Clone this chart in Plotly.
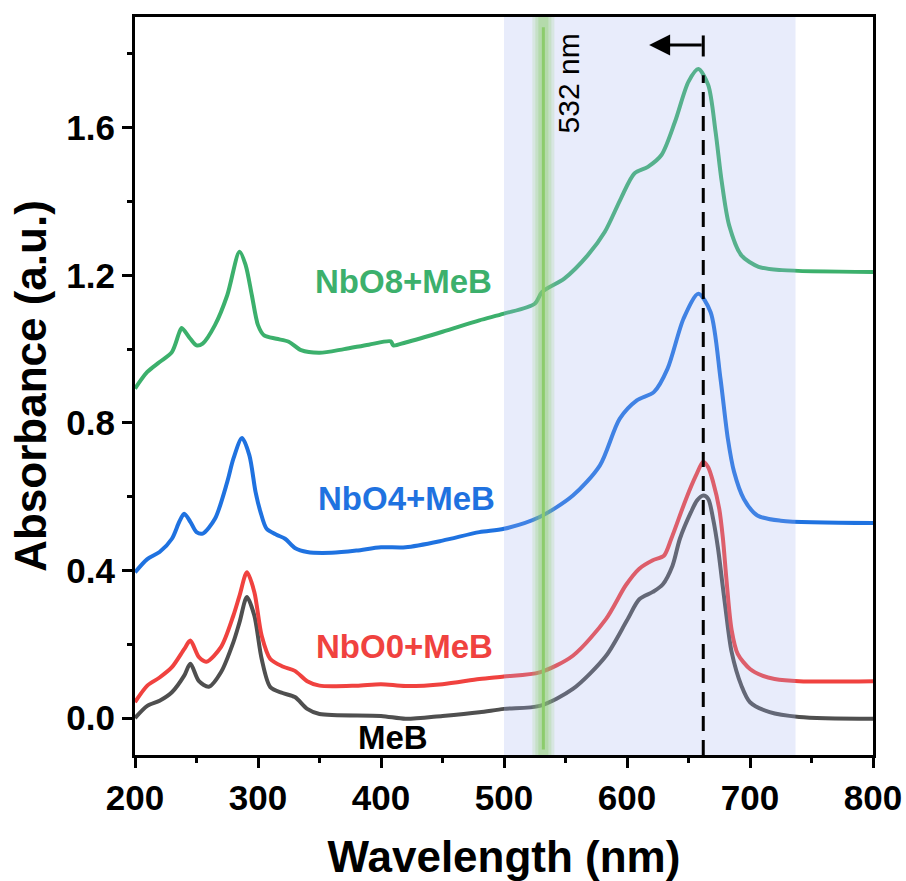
import plotly.graph_objects as go

# ---------------- data ----------------
meb_x = [200, 210, 220, 230, 240, 245, 252, 260, 270, 280, 285, 291, 297, 303, 310, 320, 330, 340, 350, 400, 420, 450, 480, 500,
         529, 556, 583, 600, 610, 621, 629, 637, 643, 652, 657, 662, 666, 670, 674, 677, 680, 685, 693, 700, 716, 740, 800]
meb_y = [0.0, 0.033, 0.047, 0.07, 0.115, 0.147, 0.10, 0.085, 0.125, 0.206, 0.26, 0.328, 0.278, 0.16, 0.084, 0.068, 0.057, 0.025, 0.011, 0.006, -0.002, 0.006, 0.016, 0.025,
         0.033, 0.079, 0.169, 0.265, 0.322, 0.342, 0.362, 0.413, 0.486, 0.558, 0.59, 0.603, 0.594, 0.54, 0.46, 0.38, 0.30, 0.18, 0.088, 0.043, 0.016, 0.003, -0.002]

nbo0_x = [200, 210, 220, 230, 240, 245, 252, 258, 270, 280, 285, 291, 297, 303, 310, 320, 330, 340, 350, 380, 400, 420, 450, 480, 500,
          529, 556, 583, 599, 610, 621, 630, 636, 648, 656, 662, 666, 670, 675, 678, 681, 685, 690, 700, 710, 720, 740, 800]
nbo0_y = [0.043, 0.088, 0.11, 0.138, 0.187, 0.21, 0.165, 0.153, 0.193, 0.278, 0.332, 0.395, 0.342, 0.223, 0.16, 0.14, 0.128, 0.10, 0.088, 0.088, 0.092, 0.087, 0.092, 0.106, 0.113,
          0.124, 0.169, 0.269, 0.36, 0.405, 0.428, 0.44, 0.486, 0.594, 0.657, 0.695, 0.68, 0.64, 0.567, 0.486, 0.37, 0.24, 0.174, 0.133, 0.115, 0.106, 0.10, 0.10]

nbo4_x = [200, 210, 220, 230, 236, 240, 245, 250, 255, 265, 275, 280, 287, 293, 298, 302, 307, 315, 322, 330, 340, 360, 380, 400, 420, 450, 480, 500,
          529, 556, 578, 594, 608, 622, 633, 646, 658, 668, 676, 682, 687, 695, 706, 725, 800]
nbo4_y = [0.395, 0.431, 0.45, 0.486, 0.532, 0.554, 0.532, 0.504, 0.50, 0.54, 0.64, 0.703, 0.759, 0.712, 0.613, 0.559, 0.513, 0.497, 0.486, 0.461, 0.45, 0.448, 0.454, 0.463, 0.463, 0.481, 0.504, 0.513,
          0.545, 0.603, 0.685, 0.811, 0.861, 0.884, 0.947, 1.083, 1.15, 1.10, 0.92, 0.757, 0.668, 0.594, 0.549, 0.535, 0.529]

nbo8_x = [200, 210, 220, 230, 236, 238, 245, 250, 255, 265, 275, 285, 290, 295, 300, 305, 315, 325, 335, 350, 370, 390, 408, 410, 420, 450, 480, 500,
          525, 531, 549, 568, 582, 595, 606, 617, 628, 639, 650, 658, 666, 672, 677, 683, 693, 707, 726, 800]
nbo8_y = [0.893, 0.938, 0.965, 0.992, 1.045, 1.057, 1.028, 1.01, 1.015, 1.065, 1.146, 1.264, 1.227, 1.146, 1.065, 1.037, 1.028, 1.02, 0.997, 0.99, 1.0, 1.012, 1.021, 1.01, 1.018, 1.047, 1.078, 1.096,
          1.123, 1.155, 1.191, 1.254, 1.318, 1.408, 1.476, 1.494, 1.526, 1.616, 1.725, 1.759, 1.716, 1.589, 1.454, 1.336, 1.254, 1.223, 1.214, 1.209]

series_names = ["MeB", "NbO0+MeB", "NbO4+MeB", "NbO8+MeB"]
series_colors = ["#4F4F4F", "#F0423F", "#1F72E0", "#3CB06C"]
label_colors = ["#000000", "#F0423F", "#1F72E0", "#3CB06C"]
label_x = [410, 419, 421, 418]
label_y = [-0.052, 0.194, 0.594, 1.183]

band_range = [500, 737]
laser_nm = 532
peak_nm = 662
arrow_tip_nm = 618
arrow_y = 1.824

FONT = "Arial, Liberation Sans, sans-serif"

fig = go.Figure()
for xs, ys, name, col in zip([meb_x, nbo0_x, nbo4_x, nbo8_x], [meb_y, nbo0_y, nbo4_y, nbo8_y], series_names, series_colors):
    fig.add_trace(go.Scatter(x=xs, y=ys, mode="lines", name=name,
                             line=dict(color=col, width=4, shape="spline", smoothing=0.8),
                             showlegend=False))

# shaded band drawn above traces (semi-transparent)
fig.add_shape(type="rect", xref="x", yref="paper", x0=band_range[0], x1=band_range[1], y0=0, y1=1,
              fillcolor="rgba(163,179,239,0.25)", line_width=0, layer="above")

# 532 nm laser line with glow
for w, op in [(22, 0.18), (16, 0.22), (10, 0.3)]:
    fig.add_shape(type="line", xref="x", yref="paper", x0=laser_nm, x1=laser_nm, y0=0.0, y1=1.0,
                  line=dict(color="rgb(140,205,110)", width=w), opacity=op, layer="above")
fig.add_shape(type="line", xref="x", yref="y", x0=laser_nm, x1=laser_nm, y0=-0.085, y1=1.872,
              line=dict(color="rgb(140,204,108)", width=3), layer="above")

# dashed peak line
fig.add_shape(type="line", xref="x", yref="y", x0=peak_nm, x1=peak_nm, y0=-0.1, y1=1.742,
              line=dict(color="black", width=3, dash="15px,9px"), layer="above")
# T bar of arrow
fig.add_shape(type="line", xref="x", yref="y", x0=peak_nm, x1=peak_nm, y0=1.793, y1=1.85,
              line=dict(color="black", width=3), layer="above")

fig.add_annotation(x=arrow_tip_nm, y=arrow_y, ax=peak_nm, ay=arrow_y, xref="x", yref="y", axref="x", ayref="y",
                   text="", showarrow=True, arrowhead=2, arrowsize=1.4, arrowwidth=3, arrowcolor="black")

fig.add_annotation(x=552, y=1.72, xref="x", yref="y", text="532 nm", showarrow=False, textangle=-90,
                   font=dict(family=FONT, size=30, color="black"))

for t, c, lx, ly in zip(series_names, label_colors, label_x, label_y):
    fig.add_annotation(x=lx, y=ly, xref="x", yref="y", text=t, showarrow=False,
                       font=dict(family=FONT, size=33, color=c, weight="bold"))

axis_common = dict(showline=True, linewidth=3, linecolor="black", mirror=True, ticks="outside",
                   ticklen=10, tickwidth=3, tickcolor="black", showgrid=False, zeroline=False,
                   tickfont=dict(family=FONT, size=35, color="black", weight="bold"))

fig.update_xaxes(range=[200, 800], dtick=100, tick0=200,
                 minor=dict(ticks="outside", ticklen=5, tickwidth=3, tickcolor="black", dtick=50, showgrid=False),
                 title=dict(text="Wavelength (nm)", font=dict(family=FONT, size=44, color="black", weight="bold"), standoff=26),
                 **axis_common)
fig.update_yaxes(range=[-0.1, 1.9], dtick=0.4, tick0=0, tickformat=".1f",
                 minor=dict(ticks="outside", ticklen=5, tickwidth=3, tickcolor="black", dtick=0.2, showgrid=False),
                 title=dict(text="Absorbance (a.u.)", font=dict(family=FONT, size=44, color="black", weight="bold"), standoff=6),
                 **axis_common)

fig.update_layout(width=906, height=881, margin=dict(l=135, r=33, t=17, b=126, autoexpand=False),
                  paper_bgcolor="white", plot_bgcolor="white")

fig.write_html("out.html")
